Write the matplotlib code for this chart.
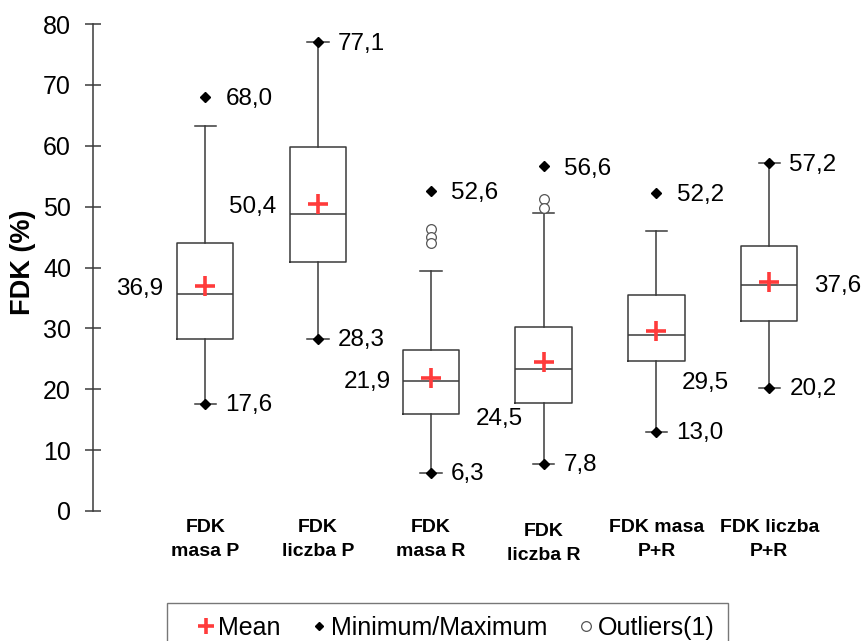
import matplotlib
matplotlib.use("Agg")
import matplotlib.pyplot as plt
from matplotlib.lines import Line2D

plt.rcParams['font.family'] = ['Liberation Sans', 'DejaVu Sans']

# ---- data ----
categories = ["FDK\nmasa P", "FDK\nliczba P", "FDK\nmasa R", "FDK\nliczba R",
              "FDK masa\nP+R", "FDK liczba\nP+R"]
q1 = [28.2, 40.9, 15.9, 17.8, 24.6, 31.2]
medians = [35.6, 48.8, 21.3, 23.4, 28.9, 37.1]
q3 = [44.0, 59.8, 26.4, 30.2, 35.5, 43.6]
whisker_low = [17.6, 28.3, 6.3, 7.8, 13.0, 20.2]
whisker_high = [63.3, 77.1, 39.5, 48.9, 46.0, 57.2]
means = [36.9, 50.4, 21.9, 24.5, 29.5, 37.6]
minimums = [17.6, 28.3, 6.3, 7.8, 13.0, 20.2]
maximums = [68.0, 77.1, 52.6, 56.6, 52.2, 57.2]
outliers = [[], [], [46.4, 45.0, 44.0], [51.2, 49.7], [], []]
yticks = [0, 10, 20, 30, 40, 50, 60, 70, 80]

# ---- style ----
LINE = '#3a3a3a'
RED = '#ff3b3b'
# mean label offsets in pixels (dx, dy) and horizontal alignment
mean_label_style = [(-42, -3, 'right'), (-42, -3, 'right'), (-40, -4, 'right'),
                    (-21, -57, 'right'), (25, -52, 'left'), (45, -4, 'left')]

fig = plt.figure(figsize=(8.64, 6.41), dpi=100)
ax = fig.add_axes([92.5 / 864, 1 - 511 / 641, 767 / 864, 487 / 641])

positions = list(range(1, len(categories) + 1))
stats = []
for i in range(len(categories)):
    stats.append(dict(med=medians[i], q1=q1[i], q3=q3[i], whislo=whisker_low[i],
                      whishi=whisker_high[i], mean=means[i], fliers=outliers[i]))

ax.bxp(stats, positions=positions, widths=0.5, capwidths=0.19, showmeans=True,
       boxprops=dict(color=LINE, linewidth=1.1),
       whiskerprops=dict(color=LINE, linewidth=1.1),
       capprops=dict(color=LINE, linewidth=1.1),
       medianprops=dict(color=LINE, linewidth=1.1),
       meanprops=dict(marker='+', markeredgecolor=RED, markersize=15,
                      markeredgewidth=2.6, zorder=5),
       flierprops=dict(marker='o', markerfacecolor='white', markeredgecolor='#555555',
                       markersize=7, markeredgewidth=0.9),
       manage_ticks=False)

ax.plot(positions, minimums, linestyle='none', marker='D', color='black',
        markersize=5, zorder=6, clip_on=False)
ax.plot(positions, maximums, linestyle='none', marker='D', color='black',
        markersize=5, zorder=6, clip_on=False)

def fmt(v):
    return f"{v:.1f}".replace('.', ',')

for i, p in enumerate(positions):
    ax.annotate(fmt(maximums[i]), (p, maximums[i]), xytext=(14.5, -1.5),
                textcoords='offset points', ha='left', va='center', fontsize=17.5)
    ax.annotate(fmt(minimums[i]), (p, minimums[i]), xytext=(14.5, -1),
                textcoords='offset points', ha='left', va='center', fontsize=17.5)
    dx, dy, ha = mean_label_style[i]
    ax.annotate(fmt(means[i]), (p, means[i]), xytext=(dx * 0.72, dy * 0.72),
                textcoords='offset points', ha=ha, va='center', fontsize=17.5)
    ax.annotate(categories[i], (p, 0), xycoords=('data', 'axes fraction'),
                xytext=(0, -6 if i != 3 else -9), textcoords='offset points',
                ha='center', va='top', fontsize=14, fontweight='bold',
                linespacing=1.5)

ax.set_xlim(0, 6.8)
ax.set_ylim(0, 80)
ax.set_yticks(yticks)
ax.set_yticklabels([str(t) for t in yticks], fontsize=18)
ax.tick_params(axis='y', direction='inout', length=11, width=1.1, color=LINE, pad=10)
ax.set_xticks([])
for s in ['top', 'right', 'bottom']:
    ax.spines[s].set_visible(False)
ax.spines['left'].set_color(LINE)
ax.spines['left'].set_linewidth(1.1)

ax.set_ylabel('FDK (%)', fontsize=19.5, fontweight='bold')
ax.yaxis.set_label_coords(-0.074, 0.51)

handles = [
    Line2D([], [], linestyle='none', marker='+', markeredgecolor=RED, markersize=12,
           markeredgewidth=2.6),
    Line2D([], [], linestyle='none', marker='D', color='black', markersize=4.5),
    Line2D([], [], linestyle='none', marker='o', markerfacecolor='white',
           markeredgecolor='#555555', markersize=7, markeredgewidth=0.9),
]
leg = fig.legend(handles, ['Mean', 'Minimum/Maximum', 'Outliers(1)'], ncol=3,
                 loc='upper left', bbox_to_anchor=(167 / 864, 1 - 603 / 641),
                 bbox_transform=fig.transFigure, borderaxespad=0, fontsize=18,
                 frameon=True, fancybox=False, edgecolor='#555555',
                 handlelength=2.07, handletextpad=-0.56, columnspacing=0.52,
                 borderpad=0.52)
leg.get_frame().set_linewidth(1.0)

fig.savefig('out.png', dpi=100)
